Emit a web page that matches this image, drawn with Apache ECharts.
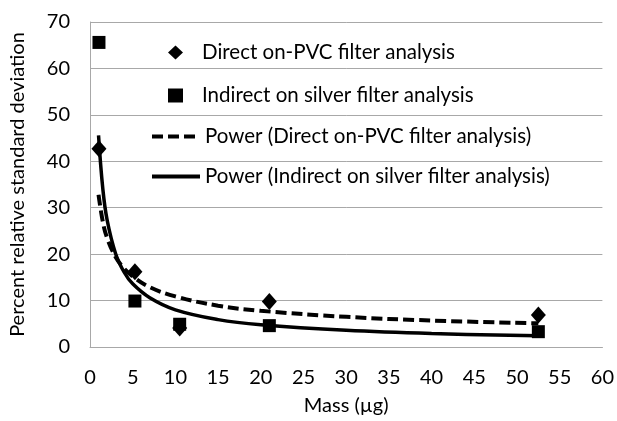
<!DOCTYPE html>
<html>
<head>
<meta charset="utf-8">
<script src="https://cdn.jsdelivr.net/npm/echarts@6/dist/echarts.min.js"></script>
<style>
  html, body { margin: 0; padding: 0; background: #fff; }
  #chart { width: 617px; height: 421px; }
</style>
</head>
<body>
<div id="chart"></div>
<script>
// measured points (mass in µg, %RSD)
const directPts = [[1.05, 42.7], [5.26, 16.2], [10.5, 4.1], [21, 9.8], [52.5, 6.9]]
const indirectPts = [[1.05, 65.6], [5.26, 9.9], [10.5, 4.9], [21, 4.6], [52.5, 3.3]]

// trendlines
const curveX = [1, 1.5, 2, 3, 4, 5, 7, 10, 15, 20, 30, 40, 52.5]
const powerDirect = [32.8, 27.0, 23.5, 19.4, 16.9, 15.2, 12.9, 10.9, 8.9, 7.8, 6.5, 5.7, 5.1]
const powerIndirect = [45.6, 34.1, 27.4, 20.1, 16.1, 13.6, 10.6, 8.0, 5.9, 4.8, 3.6, 2.9, 2.4]

const xTicks = [0, 60, 5]
const yTicks = [0, 70, 10]

const names = [
  'Direct on-PVC filter analysis',
  'Indirect on silver filter analysis',
  'Power (Direct on-PVC filter analysis)',
  'Power (Indirect on silver filter analysis)'
]

const FONT = 'Lato, "Open Sans", sans-serif'
const TXT = '#000'
const GRID = '#a8a8a8'
// zero-area path so the line legend shows only the stroke
const NO_MARK = 'path://M0,0L10,10'

const zip = (xs, ys) => xs.map((x, i) => [x, ys[i]])

const chart = echarts.init(document.getElementById('chart'), null, { renderer: 'canvas' })

chart.setOption({
  animation: false,
  grid: {
    left: 90,
    right: 14,
    top: 22,
    bottom: 72
  },
  legend: [
    {
      data: [names[0], names[1]],
      orient: 'vertical',
      left: 168,
      top: 42,
      padding: 0,
      itemWidth: 15,
      itemHeight: 14,
      itemGap: 22,
      textStyle: {
        color: TXT,
        fontFamily: FONT,
        fontSize: 20.5,
        lineHeight: 21,
        padding: [0, 0, 0, 14]
      }
    },
    {
      data: [names[2], names[3]],
      orient: 'vertical',
      left: 150,
      top: 126,
      padding: 0,
      itemWidth: 48,
      itemHeight: 14,
      itemGap: 19,
      lineStyle: { width: 4 },
      textStyle: {
        color: TXT,
        fontFamily: FONT,
        fontSize: 20.5,
        lineHeight: 21
      }
    }
  ],
  xAxis: {
    type: 'value',
    min: xTicks[0],
    max: xTicks[1],
    interval: xTicks[2],
    name: 'Mass (µg)',
    nameLocation: 'middle',
    nameGap: 49,
    nameTextStyle: { color: TXT, fontFamily: FONT, fontSize: 20 },
    axisLine: { lineStyle: { color: GRID, width: 1 } },
    axisTick: { show: false },
    splitLine: { show: false },
    axisLabel: { color: TXT, fontFamily: FONT, fontSize: 20, margin: 21 }
  },
  yAxis: {
    type: 'value',
    min: yTicks[0],
    max: yTicks[1],
    interval: yTicks[2],
    name: 'Percent relative standard deviation',
    nameLocation: 'middle',
    nameGap: 62,
    nameTextStyle: { color: TXT, fontFamily: FONT, fontSize: 20 },
    axisLine: { show: true, lineStyle: { color: GRID, width: 1 } },
    axisTick: { show: false },
    splitLine: { lineStyle: { color: GRID, width: 1 } },
    axisLabel: { color: TXT, fontFamily: FONT, fontSize: 20, margin: 20 }
  },
  series: [
    {
      name: names[0],
      type: 'scatter',
      symbol: 'diamond',
      symbolSize: [15, 17],
      itemStyle: { color: '#000', opacity: 1 },
      data: directPts,
      z: 3
    },
    {
      name: names[1],
      type: 'scatter',
      symbol: 'rect',
      symbolSize: 13,
      itemStyle: { color: '#000', opacity: 1 },
      data: indirectPts,
      z: 3
    },
    {
      name: names[2],
      type: 'line',
      smooth: 0.4,
      symbol: NO_MARK,
      showSymbol: false,
      lineStyle: { color: '#000', width: 4, type: [11, 5] },
      itemStyle: { color: '#000' },
      data: zip(curveX, powerDirect),
      z: 2
    },
    {
      name: names[3],
      type: 'line',
      smooth: 0.4,
      symbol: NO_MARK,
      showSymbol: false,
      lineStyle: { color: '#000', width: 3.5, type: 'solid' },
      itemStyle: { color: '#000' },
      data: zip(curveX, powerIndirect),
      z: 2
    }
  ]
})
</script>
</body>
</html>
